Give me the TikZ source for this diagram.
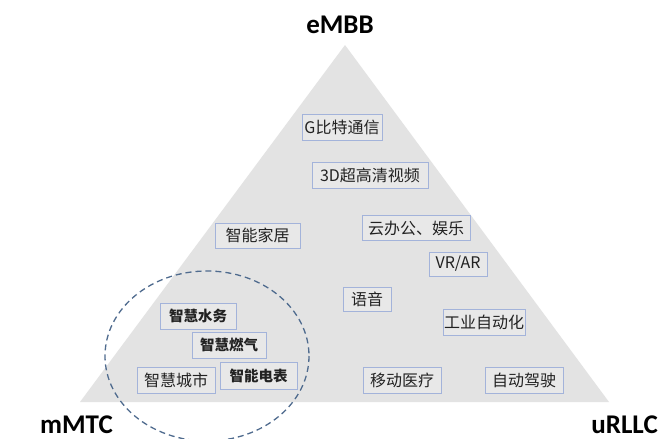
\documentclass[tikz,border=0pt]{standalone}
\usepackage{fontspec}
\newfontfamily\cjk{Noto Sans CJK SC}
\newfontfamily\lab{Carlito}
\definecolor{trigray}{HTML}{E3E3E3}
\definecolor{boxfill}{HTML}{E8E8E8}
\definecolor{boxline}{HTML}{A3B3DA}
\definecolor{dashc}{HTML}{4F6B8E}
\definecolor{txt}{HTML}{222222}
\begin{document}
\begin{tikzpicture}[x=1pt,y=-1pt,
  appbox/.style={draw=boxline, line width=1pt, fill=boxfill, inner sep=0pt,
    minimum height=26pt, text=txt, font=\cjk\fontsize{16}{16}\selectfont},
  boldbox/.style={appbox, font=\cjk\bfseries\fontsize{14.5}{14.5}\selectfont},
  corner/.style={font=\lab\bfseries\fontsize{27}{27}\selectfont, text=black, inner sep=0pt}]
\useasboundingbox (0,0) rectangle (662,439);
\fill[white] (0,0) rectangle (662,439);
\coordinate (apex) at (345,45);
\coordinate (bl) at (80,402);
\coordinate (br) at (609,402);
\fill[trigray] (apex) -- (br) -- (bl) -- cycle;

\node[appbox, minimum width=80pt] (g) at (342,127) {G比特通信};
\node[appbox, minimum width=116pt] (d3) at (370,175) {3D超高清视频};
\node[appbox, minimum width=108pt, minimum height=25pt] (yun) at (416,228) {云办公、娱乐};
\node[appbox, minimum width=85pt, minimum height=25pt] (jiaju) at (257.5,235.5) {智能家居};
\node[appbox, minimum width=58pt, minimum height=24pt] (vr) at (458,264) {VR/AR};
\node[appbox, minimum width=48pt, minimum height=24pt] (yy) at (367,299) {语音};
\node[appbox, minimum width=82pt] (gy) at (484,322) {工业自动化};
\node[boldbox, minimum width=76pt] (sw) at (198,316) {智慧水务};
\node[boldbox, minimum width=74pt] (rq) at (229,345) {智慧燃气};
\node[appbox, minimum width=78pt] (cs) at (176,380) {智慧城市};
\node[boldbox, minimum width=77pt, minimum height=27pt] (db) at (258.5,375.5) {智能电表};
\node[appbox, minimum width=78pt] (yl) at (402,380) {移动医疗};
\node[appbox, minimum width=78pt] (jsh) at (524,380) {自动驾驶};

\draw[dashc, line width=1.3pt, dash pattern=on 6pt off 4pt] (207,356) ellipse [x radius=102, y radius=85];

\node[corner, anchor=base] (embb) at (340,33) {eMBB};
\node[corner, anchor=base west] (mmtc) at (40,433) {mMTC};
\node[corner, anchor=base east] (urllc) at (658,433) {uRLLC};
\end{tikzpicture}
\end{document}
